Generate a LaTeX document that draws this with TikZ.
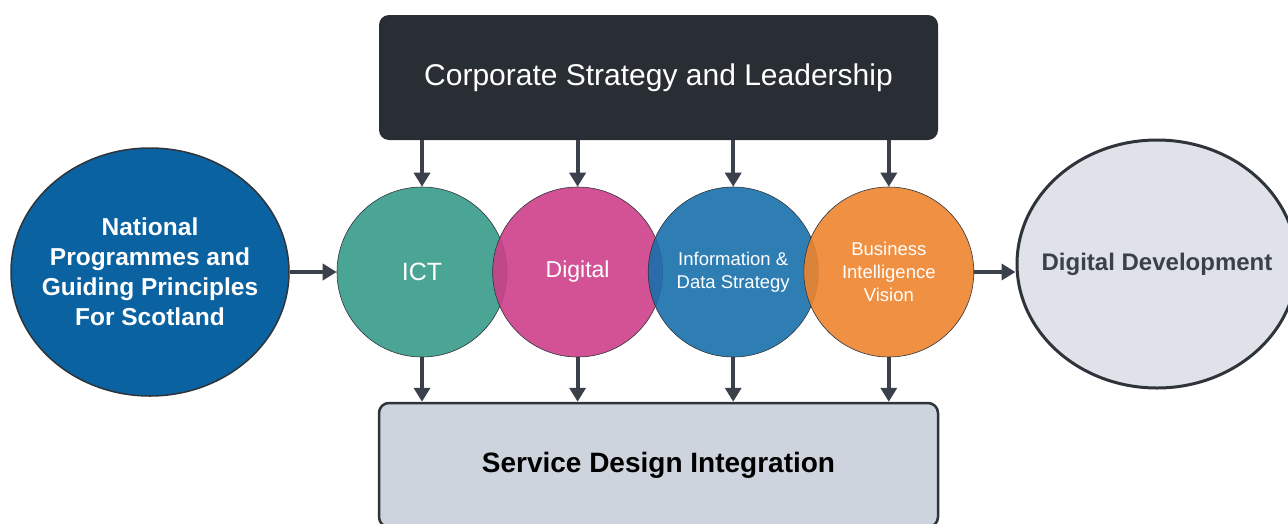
\documentclass[tikz,border=0pt]{standalone}
\usepackage{fontspec}
\setmainfont{Liberation Sans}
\usetikzlibrary{shapes.geometric,arrows.meta,positioning}

\definecolor{topfill}{HTML}{292D34}
\definecolor{basefill}{HTML}{CDD4DD}
\definecolor{edgegrey}{HTML}{2F343B}
\definecolor{linkgrey}{HTML}{3A414A}
\definecolor{ictcol}{HTML}{369B8A}
\definecolor{digcol}{HTML}{CD3F8A}
\definecolor{infocol}{HTML}{1770AC}
\definecolor{bicol}{HTML}{ED842E}
\definecolor{natcol}{HTML}{0A62A1}
\definecolor{devcol}{HTML}{DFE2E8}

\begin{document}
\begin{tikzpicture}
          [x=1pt,y=-1pt,
           box/.style={rectangle, rounded corners=10pt, minimum width=559pt, inner sep=0pt},
           bubble/.style={circle, draw=edgegrey, line width=0.6pt, minimum size=170pt, inner sep=0pt, fill opacity=0.9, text opacity=1, text=white, align=center},
           oval/.style={ellipse, minimum width=278pt, minimum height=248pt, inner xsep=-40pt, inner ysep=0pt, align=center},
           link/.style={draw=linkgrey, line width=4pt, -{Triangle[length=14pt,width=16pt]}},
           node distance=-15pt]
        \useasboundingbox (0,0) rectangle (1288,523);
          % top and bottom bars
          \node [box, fill=topfill, minimum height=125pt, text=white, font=\fontsize{30}{34}\selectfont] (lead) at (658.5,77.5) {Corporate Strategy and Leadership};
          \node [box, fill=basefill, draw=edgegrey, line width=2.5pt, minimum height=124pt, font=\bfseries\fontsize{28}{32}\selectfont] (sdi) at (658.5,465) {Service Design Integration};
          % the four overlapping circles
          \node [bubble, fill=ictcol, font=\fontsize{25}{29}\selectfont] (ict) at (422,272) {ICT};
          \node [bubble, fill=digcol, right=of ict, font=\fontsize{23}{27}\selectfont] (dig) {Digital};
          \node [bubble, fill=infocol, right=of dig, font=\fontsize{18.5}{23}\selectfont] (info) {Information \&\\Data Strategy};
          \node [bubble, fill=bicol, right=of info, font=\fontsize{18.5}{23}\selectfont] (bi) {Business\\Intelligence\\Vision};
          % the two ends
          \node [oval, fill=natcol, draw=edgegrey, line width=1.5pt, text=white, font=\bfseries\fontsize{24.5}{30}\selectfont] (nat) at (150,272) {National\\Programmes and\\Guiding Principles\\For Scotland};
          \node [oval, fill=devcol, draw=edgegrey, line width=3pt, minimum width=280pt, text=linkgrey, font=\bfseries\fontsize{24}{28}\selectfont] (dev) at (1157,264) {Digital Development};
          % connectors
          \draw [link] (nat) -- (ict);
          \draw [link] (bi.east) -- (dev.west |- bi.east);
          \foreach \c in {ict,dig,info,bi}{
            \draw [link] (\c.north |- lead.south) -- (\c.north);
            \draw [link] (\c.south) -- (\c.south |- sdi.north);
          }
        \end{tikzpicture}
\end{document}
